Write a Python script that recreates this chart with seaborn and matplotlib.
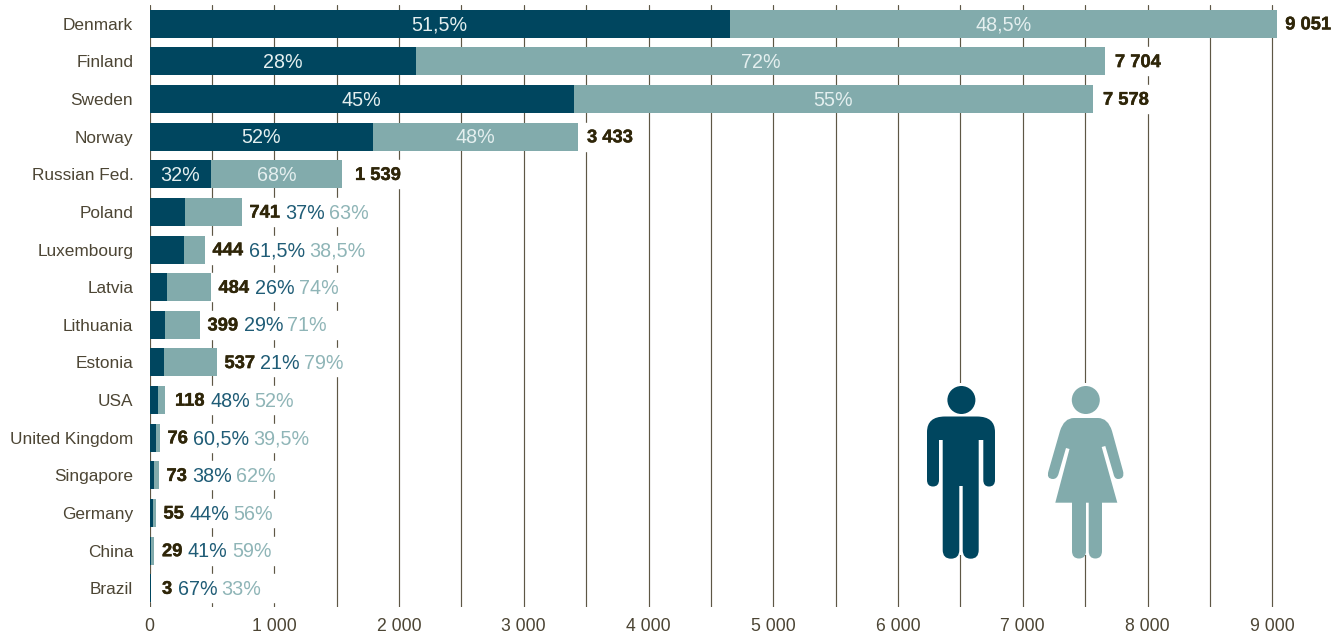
import matplotlib
matplotlib.use("Agg")
import matplotlib.pyplot as plt
import matplotlib.patheffects as pe
import pandas as pd
import seaborn as sns
from matplotlib.path import Path
from matplotlib.patches import PathPatch, Circle, Rectangle
from matplotlib.transforms import Affine2D, ScaledTranslation

countries = ["Denmark", "Finland", "Sweden", "Norway", "Russian Fed.", "Poland", "Luxembourg", "Latvia",
             "Lithuania", "Estonia", "USA", "United Kingdom", "Singapore", "Germany", "China", "Brazil"]
bar_total = [9040, 7659, 7563, 3435, 1543, 741, 445, 493, 405, 541, 124, 84, 76, 52, 36, 12]
bar_men = [4653, 2136, 3403, 1792, 493, 285, 277, 138, 124, 116, 71, 52, 36, 28, 14, 12]
men_share = [51.5, 28, 45, 52, 32, 37, 61.5, 26, 29, 21, 48, 60.5, 38, 44, 41, 67]
women_share = [48.5, 72, 55, 48, 68, 63, 38.5, 74, 71, 79, 52, 39.5, 62, 56, 59, 33]
total_labels = ["9 051", "7 704", "7 578", "3 433", "1 539", "741", "444", "484", "399", "537", "118", "76", "73", "55", "29", "3"]
major_ticks = [0, 1000, 2000, 3000, 4000, 5000, 6000, 7000, 8000, 9000]
major_labels = ["0", "1 000", "2 000", "3 000", "4 000", "5 000", "6 000", "7 000", "8 000", "9 000"]
minor_ticks = [500, 1500, 2500, 3500, 4500, 5500, 6500, 7500, 8500]

DARK, TEAL = "#00465f", "#82abac"
TEXT, BOLD = "#4c4534", "#2f2609"
MEN_TXT, WOMEN_TXT = "#1f5c76", "#8fb5b7"
INNER = "#e4efef"
W, H = 1342, 639
X0, SCALE = 149.5, 0.12475

sns.set_style("white")
plt.rcParams["font.family"] = ["Liberation Sans", "DejaVu Sans"]

df = pd.DataFrame({"country": countries, "total": bar_total, "men": bar_men})

fig = plt.figure(figsize=(W / 100, H / 100), dpi=100, facecolor="white")
ax = fig.add_axes([X0 / W, (H - 607) / H, (W - X0) / W, 602 / H])

sns.barplot(data=df, y="country", x="total", color=TEAL, saturation=1, width=0.745, ax=ax, zorder=2, linewidth=0)
sns.barplot(data=df, y="country", x="men", color=DARK, saturation=1, width=0.745, ax=ax, zorder=2.1, linewidth=0)

ax.set_xlim(0, (W - X0) / SCALE)
ax.set_ylim(15.5, -0.5)
ax.set_xlabel("")
ax.set_ylabel("")
for s in ax.spines.values():
    s.set_visible(False)
ax.set_xticks(major_ticks, major_labels)
ax.set_xticks(minor_ticks, minor=True)
ax.set_axisbelow(True)
ax.grid(True, axis="x", which="both", color="#5e5745", linewidth=0.85)
ax.grid(False, axis="y")
ax.tick_params(axis="x", which="both", length=0, pad=7.7, labelsize=12.7, labelcolor=TEXT)
ax.tick_params(axis="y", length=0, pad=11.7, labelsize=12.4, labelcolor=TEXT)

heavy = [pe.withStroke(linewidth=0.3, foreground=BOLD)]
gaps = {0: 8, 1: 10, 2: 10, 3: 9, 4: 13, 10: 10}
renderer = fig.canvas.get_renderer()
fmt = lambda v: f"{v:g}".replace(".", ",") + "%"
for i, (total, men, m, w, lab) in enumerate(zip(bar_total, bar_men, men_share, women_share, total_labels)):
    y = i + 0.03
    gap = gaps.get(i, 7.5)
    if i < 5:
        ax.text(men / 2, y, fmt(m), color=INNER, fontsize=14.2, ha="center", va="center", zorder=4)
        ax.text((men + total) / 2, y, fmt(w), color=INNER, fontsize=14.2, ha="center", va="center", zorder=4)
        ax.barh(i, 520, left=total, height=0.745, color="white", zorder=1)
        ax.text(total + gap / SCALE, y, lab, color=BOLD, fontsize=13.2, fontweight="bold", ha="left", va="center",
                zorder=4, path_effects=heavy)
    else:
        mask_to = 1750 if i < 10 else 1250
        ax.barh(i, mask_to - total, left=total, height=0.745, color="white", zorder=1)
        x = max(total + gap / SCALE, 12.5 / SCALE)
        for txt, col, fw, size, sep in [(lab, BOLD, "bold", 13.2, 5.5), (fmt(m), MEN_TXT, "normal", 14.2, 4),
                                        (fmt(w), WOMEN_TXT, "normal", 14.2, 0)]:
            t = ax.text(x, y, txt, color=col, fontsize=size, fontweight=fw, ha="left", va="center", zorder=4,
                        path_effects=heavy if fw == "bold" else None)
            x += (t.get_window_extent(renderer).width + sep) / SCALE

# pictograms, drawn in reference pixel coordinates
pix = Affine2D().scale(1 / W, -1 / H).translate(0, 1) + fig.transFigure


def shape(cmds, color):
    verts, codes = [], []
    for c in cmds:
        if len(c) == 2:
            verts.append(c)
            codes.append(Path.LINETO)
        else:
            verts += [(c[0], c[1]), (c[2], c[3])]
            codes += [Path.CURVE3, Path.CURVE3]
    codes[0] = Path.MOVETO
    verts.append(verts[0])
    codes.append(Path.CLOSEPOLY)
    fig.add_artist(PathPatch(Path(verts, codes), facecolor=color, edgecolor="none", transform=pix, zorder=6))


for x0, x1 in [(924, 998), (1045, 1127)]:
    fig.add_artist(Rectangle((x0, 383), x1 - x0, 172, facecolor="white", edgecolor="none", transform=pix, zorder=5))
fig.add_artist(Circle((961.4, 400), 14, facecolor=DARK, edgecolor="none", transform=pix, zorder=6))
fig.add_artist(Circle((1085.8, 400), 14, facecolor=TEAL, edgecolor="none", transform=pix, zorder=6))

shape([(945, 416.5), (977, 416.5), (995, 416.5, 995, 432), (995, 480), (995, 486.5, 989, 486.5),
       (983.3, 486.5, 983.3, 480), (983.3, 440), (978.7, 440), (978.7, 550), (978.7, 558.7, 970.7, 558.7),
       (962.7, 558.7, 962.7, 550), (962.7, 486), (959.3, 486), (959.3, 550), (959.3, 558.7, 951, 558.7),
       (942.7, 558.7, 942.7, 550), (942.7, 440), (939, 440), (939, 480), (939, 486.5, 933, 486.5),
       (927, 486.5, 927, 480), (927, 432), (927, 416.5, 945, 416.5)], DARK)

shape([(1074, 418), (1098, 418), (1108, 418, 1112, 431), (1123, 471), (1125, 479, 1118, 479),
       (1114.5, 479, 1113.5, 474), (1105.3, 446), (1101.7, 447), (1117.3, 502.7), (1055.3, 502.7),
       (1069.5, 449), (1066, 448), (1058.5, 474), (1057, 479, 1053, 479), (1046, 479, 1048.5, 471),
       (1060, 431), (1064, 418, 1074, 418)], TEAL)
for a, b in [(1072, 1086), (1088.7, 1102)]:
    m = (a + b) / 2
    shape([(a, 502), (b, 502), (b, 551), (b, 558.5, m, 558.5), (a, 558.5, a, 551)], TEAL)

fig.savefig("out.png", dpi=100, facecolor="white")
